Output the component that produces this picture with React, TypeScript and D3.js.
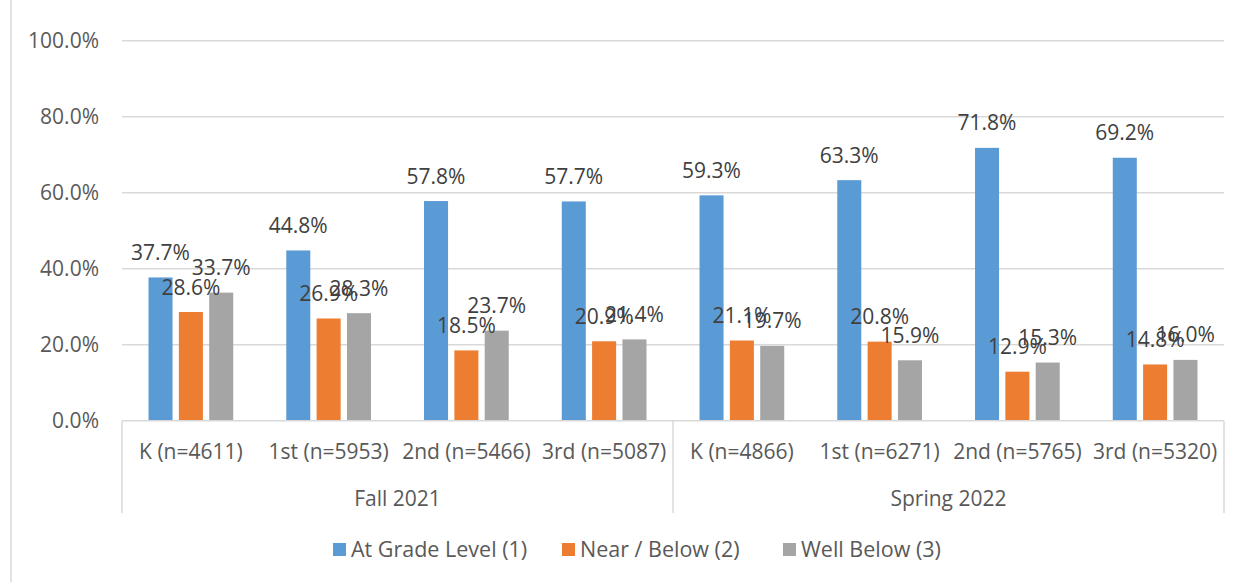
import React, { useEffect, useRef } from "react";
import * as d3 from "d3";

const periods = ["Fall 2021", "Spring 2022"];
const categories = [
  "K (n=4611)", "1st (n=5953)", "2nd (n=5466)", "3rd (n=5087)",
  "K (n=4866)", "1st (n=6271)", "2nd (n=5765)", "3rd (n=5320)",
];
const categoryPeriod = [0, 0, 0, 0, 1, 1, 1, 1];
const seriesNames = ["At Grade Level (1)", "Near / Below (2)", "Well Below (3)"];
const seriesColors = ["#5B9BD5", "#ED7D31", "#A5A5A5"];
const atGrade = [37.7, 44.8, 57.8, 57.7, 59.3, 63.3, 71.8, 69.2];
const nearBelow = [28.6, 26.9, 18.5, 20.9, 21.1, 20.8, 12.9, 14.8];
const wellBelow = [33.7, 28.3, 23.7, 21.4, 19.7, 15.9, 15.3, 16.0];
const yTicks = [0, 20, 40, 60, 80, 100];

const W = 1248;
const H = 582;
const FONT = "'Open Sans', 'Liberation Sans', sans-serif";
const FS = 21;
const TEXT = "#595959";
const LINE = "#D9D9D9";

export default function App() {
  const ref = useRef<SVGSVGElement | null>(null);

  useEffect(() => {
    const svg = d3.select(ref.current);
    svg.selectAll("*").remove();

    const left = 122, right = 1224, top = 40.7, bottom = 420.7;
    const y = d3.scaleLinear().domain([0, 100]).range([bottom, top]);
    const x0 = d3.scaleBand<number>().domain(d3.range(categories.length)).range([left, right]);
    const groupW = x0.bandwidth() * 0.615;
    const x1 = d3.scaleBand<number>().domain([0, 1, 2]).range([0, groupW]).paddingInner(0.208);
    const groupOffset = (x0.bandwidth() - groupW) / 2;

    const values = [atGrade, nearBelow, wellBelow];

    // outer frame edge
    svg.append("line").attr("x1", 11).attr("x2", 11).attr("y1", 0).attr("y2", H)
      .attr("stroke", LINE).attr("stroke-width", 1.5);

    // gridlines
    svg.append("g").selectAll("line").data(yTicks.filter((t) => t > 0)).join("line")
      .attr("x1", left).attr("x2", right)
      .attr("y1", (d) => y(d)).attr("y2", (d) => y(d))
      .attr("stroke", LINE).attr("stroke-width", 1.5);

    // y tick labels
    svg.append("g").selectAll("text").data(yTicks).join("text")
      .attr("x", 99).attr("y", (d) => y(d)).attr("dy", "0.36em")
      .attr("text-anchor", "end").attr("font-family", FONT).attr("font-size", FS)
      .attr("fill", TEXT).text((d) => d3.format(".1f")(d) + "%");

    // bars
    const bars = svg.append("g");
    values.forEach((vals, s) => {
      bars.append("g").selectAll("rect").data(vals).join("rect")
        .attr("x", (_d, i) => (x0(i) as number) + groupOffset + (x1(s) as number))
        .attr("width", x1.bandwidth())
        .attr("y", (d) => y(d))
        .attr("height", (d) => y(0) - y(d))
        .attr("fill", seriesColors[s]);
    });

    // value labels
    const labels = svg.append("g");
    values.forEach((vals, s) => {
      labels.append("g").selectAll("text").data(vals).join("text")
        .attr("x", (_d, i) => (x0(i) as number) + groupOffset + (x1(s) as number) + x1.bandwidth() / 2)
        .attr("y", (d) => y(d) - 17.5)
        .attr("text-anchor", "middle").attr("font-family", FONT).attr("font-size", FS)
        .attr("fill", "#404040").text((d) => d3.format(".1f")(d) + "%");
    });

    // category axis
    svg.append("line").attr("x1", left).attr("x2", right).attr("y1", bottom).attr("y2", bottom)
      .attr("stroke", LINE).attr("stroke-width", 1.5);
    const dividers = [0, 4, 8].map((i) => (i < categories.length ? (x0(i) as number) : right));
    svg.append("g").selectAll("line").data(dividers).join("line")
      .attr("x1", (d) => d).attr("x2", (d) => d).attr("y1", bottom).attr("y2", 513)
      .attr("stroke", LINE).attr("stroke-width", 1.5);

    svg.append("g").selectAll("text").data(categories).join("text")
      .attr("x", (_d, i) => (x0(i) as number) + x0.bandwidth() / 2).attr("y", 459)
      .attr("text-anchor", "middle").attr("font-family", FONT).attr("font-size", FS)
      .attr("fill", TEXT).text((d) => d);

    svg.append("g").selectAll("text").data(periods).join("text")
      .attr("x", (_d, p) => {
        const idx = categoryPeriod.map((c, i) => (c === p ? i : -1)).filter((i) => i >= 0);
        const a = x0(idx[0]) as number;
        const b = (x0(idx[idx.length - 1]) as number) + x0.bandwidth();
        return (a + b) / 2;
      })
      .attr("y", 506)
      .attr("text-anchor", "middle").attr("font-family", FONT).attr("font-size", FS)
      .attr("fill", TEXT).text((d) => d);

    // legend
    const legendX = [333, 562, 783];
    const lg = svg.append("g");
    seriesNames.forEach((name, s) => {
      lg.append("rect").attr("x", legendX[s]).attr("y", 543).attr("width", 13).attr("height", 13)
        .attr("fill", seriesColors[s]);
      lg.append("text").attr("x", legendX[s] + 18).attr("y", 557)
        .attr("font-family", FONT).attr("font-size", 21.5).attr("fill", TEXT).text(name);
    });
  }, []);

  return (
    <svg
      ref={ref}
      width={W}
      height={H}
      style={{ position: "absolute", left: 0, top: 0, background: "#fff" }}
    />
  );
}
